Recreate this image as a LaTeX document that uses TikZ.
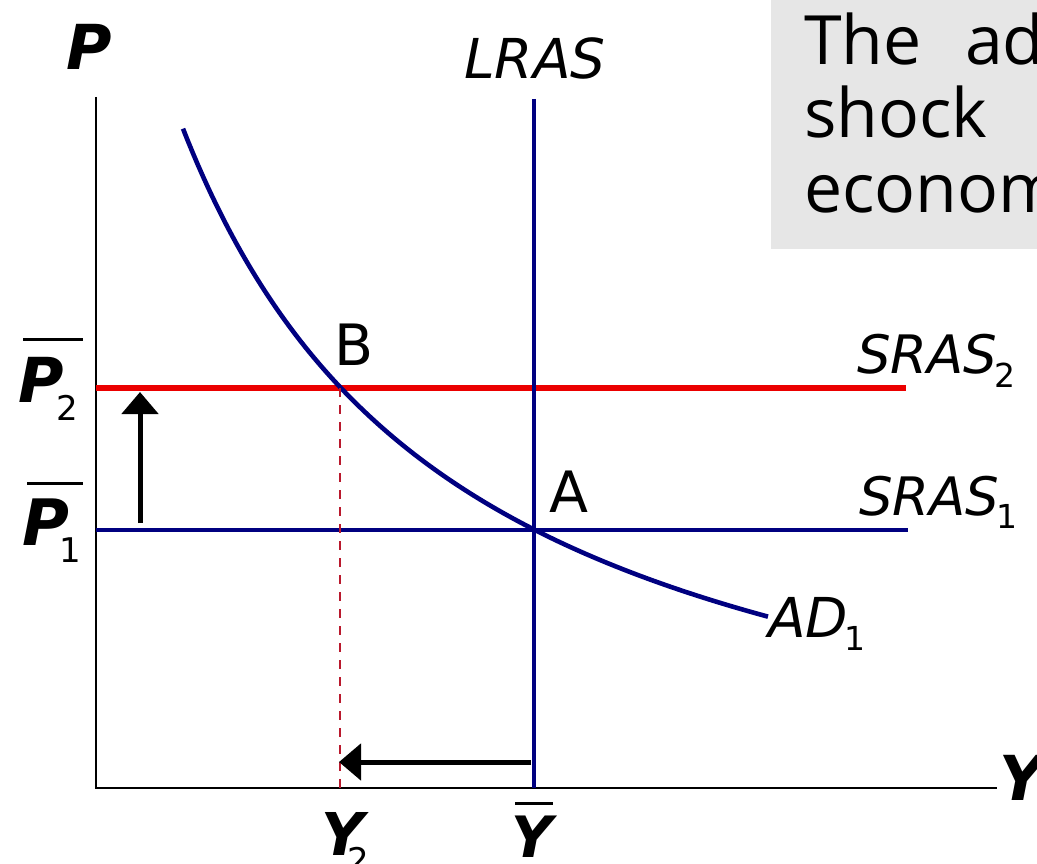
\documentclass[tikz,border=0pt]{standalone}
\usepackage{fontspec}
\usetikzlibrary{arrows.meta}
\newfontfamily\labfont{DejaVu Sans}
\newfontfamily\boxfont{Open Sans}
\newcommand\fsz[1]{\fontsize{#1}{#1}\selectfont}
\definecolor{navyline}{RGB}{0,0,128}
\definecolor{redline}{RGB}{235,0,0}
\definecolor{dashred}{RGB}{185,25,45}
\definecolor{boxgray}{RGB}{230,230,230}
\tikzset{
  lbl/.style={inner sep=0pt, outer sep=0pt, font=\labfont},
  boxtxt/.style={inner sep=0pt, outer sep=0pt, anchor=base west, font=\boxfont\fsz{68}},
  axis/.style={line width=2.5pt, black},
  navycurve/.style={line width=4.6pt, navyline},
  redcurve/.style={line width=5.2pt, redline},
  shiftarrow/.style={line width=5pt, black, -{Triangle[length=22pt,width=36pt]}},
  guide/.style={line width=2pt, dashred, dash pattern=on 9pt off 8pt},
  bar/.style={line width=3pt, black}
}
\begin{document}
\begin{tikzpicture}[x=1pt,y=-1pt]
\useasboundingbox (0,0) rectangle (1037,864);
% grey text box
\fill[boxgray] (771,-5) rectangle (1045,249);
\node[boxtxt] (t1) at (804,65) {The};
\node[boxtxt] (t2) at (965,65) {ad};
\node[boxtxt] (t3) at (804,138) {shock};
\node[boxtxt] (t4) at (804,212) {econom};
% coordinates
\coordinate (O) at (96,788);
\coordinate (Ptop) at (96,97);
\coordinate (Xend) at (997,788);
\coordinate (Ltop) at (534,99);
\coordinate (Lbot) at (534,788);
\coordinate (A) at (534,530);
\coordinate (B) at (340,388);
\coordinate (S1a) at (96,530);
\coordinate (S1b) at (908,530);
\coordinate (S2a) at (96,388);
\coordinate (S2b) at (906,388);
\coordinate (Y2) at (340,788);
\coordinate (UpS) at (140,523);
\coordinate (UpE) at (140,392);
\coordinate (LeS) at (531,762);
\coordinate (LeE) at (339,762);
% axes
\draw[axis] (Ptop) -- (O) -- (Xend);
% curves
\draw[redcurve] (S2a) -- (S2b);
\draw[navycurve] (S1a) -- (S1b);
\draw[navycurve] (Ltop) -- (Lbot);
\draw[navycurve] plot[domain=183:768, samples=120] (\x, {852.7 - 2049/(\x/100+1)});
\draw[guide] (B) -- (Y2);
% arrows
\draw[shiftarrow] (UpS) -- (UpE);
\draw[shiftarrow] (LeS) -- (LeE);
% labels
\node[lbl, anchor=base west] (Plab) at (66,70) {\fsz{62}\bfseries\itshape P};
\node[lbl, anchor=base] (LRASlab) at (535,79) {\fsz{55}\itshape LRAS};
\node[lbl, anchor=base west] (Blab) at (334,365) {\fsz{57}B};
\node[lbl, anchor=base west] (Alab) at (549,512) {\fsz{57}A};
\node[lbl, anchor=base west] (S2lab) at (857,373) {\fsz{53}\itshape SRAS\kern-3pt\raisebox{-14pt}{\fsz{33}\upshape 2}};
\node[lbl, anchor=base west] (S1lab) at (859,515) {\fsz{53}\itshape SRAS\kern-3pt\raisebox{-13pt}{\fsz{33}\upshape 1}};
\node[lbl, anchor=base west] (ADlab) at (768,637) {\fsz{55}\itshape AD\kern-3pt\raisebox{-13pt}{\fsz{33}\upshape 1}};
\node[lbl, anchor=base west] (P2lab) at (18,402) {\fsz{62}\bfseries\itshape P\kern-7pt\raisebox{-18pt}{\fsz{34}\mdseries\upshape 2}};
\node[lbl, anchor=base west] (P1lab) at (22,545) {\fsz{64}\bfseries\itshape P\kern-9pt\raisebox{-17pt}{\fsz{34}\mdseries\upshape 1}};
\draw[bar] (23,339) -- (83,339);
\draw[bar] (27,483) -- (83,483);
\node[lbl, anchor=base west] (Y2lab) at (321,855) {\fsz{59}\bfseries\itshape Y\kern-16pt\raisebox{-17pt}{\fsz{34}\mdseries\upshape 2}};
\node[lbl, anchor=base] (Ybarlab) at (532,857) {\fsz{57}\bfseries\itshape Y};
\draw[bar] (515,803) -- (553,803);
\node[lbl, anchor=base west] (Ylab) at (999,800) {\fsz{62}\bfseries\itshape Y};
\end{tikzpicture}
\end{document}
